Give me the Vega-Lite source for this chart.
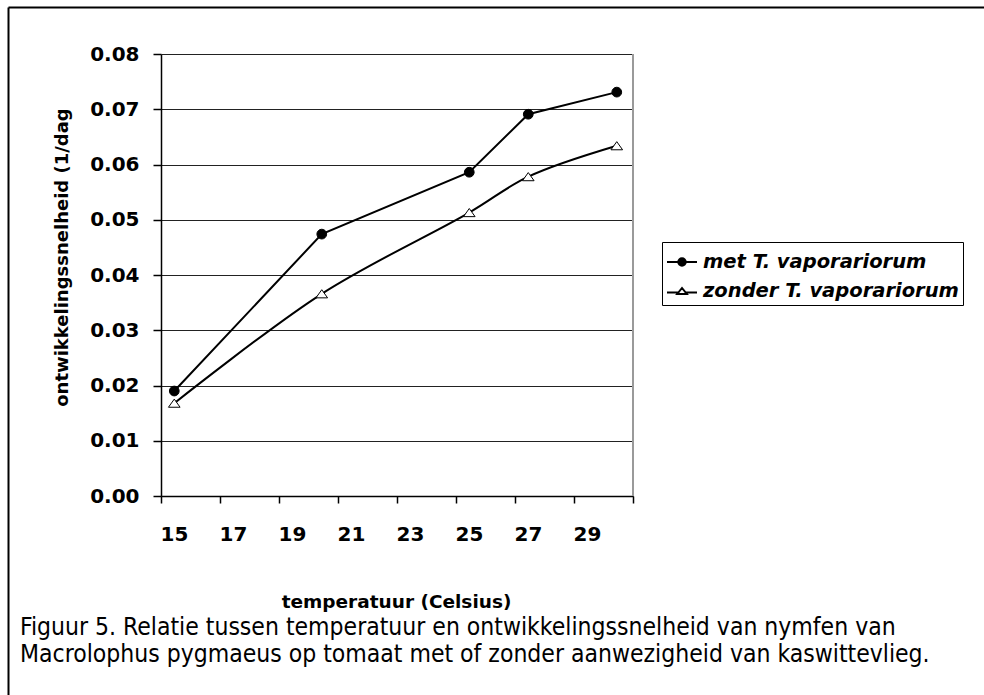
{
  "$schema": "https://vega.github.io/schema/vega-lite/v6.json",
  "width": 976,
  "height": 688,
  "autosize": "none",
  "padding": {"left": 8, "top": 7, "right": 0, "bottom": 0},
  "background": "white",
  "config": {"view": {"stroke": null}, "font": "DejaVu Sans"},
  "title": {
    "text": ["Figuur 5. Relatie tussen temperatuur en ontwikkelingssnelheid van nymfen van", "Macrolophus pygmaeus op tomaat met of zonder aanwezigheid van kaswittevlieg."],
    "orient": "bottom",
    "anchor": "start",
    "frame": "group",
    "font": "DejaVu Sans Condensed, Roboto",
    "fontSize": 24.5,
    "fontWeight": "normal",
    "color": "black",
    "baseline": "alphabetic",
    "lineHeight": 27,
    "offset": 0,
    "dx": 12,
    "dy": -60
  },
  "data": {
    "values": [
      {"temp": 15, "rate": 0.019, "series": "met T. vaporariorum"},
      {"temp": 20, "rate": 0.0474, "series": "met T. vaporariorum"},
      {"temp": 25, "rate": 0.0586, "series": "met T. vaporariorum"},
      {"temp": 27, "rate": 0.0691, "series": "met T. vaporariorum"},
      {"temp": 30, "rate": 0.0731, "series": "met T. vaporariorum"},
      {"temp": 15, "rate": 0.0168, "series": "zonder T. vaporariorum"},
      {"temp": 20, "rate": 0.0366, "series": "zonder T. vaporariorum"},
      {"temp": 25, "rate": 0.0513, "series": "zonder T. vaporariorum"},
      {"temp": 27, "rate": 0.0578, "series": "zonder T. vaporariorum"},
      {"temp": 30, "rate": 0.0634, "series": "zonder T. vaporariorum"}
    ]
  },
  "layer": [
    {
      "layer": [
        {
          "mark": {"type": "rule", "color": "#9a9a9a", "strokeWidth": 2},
          "encoding": {
            "x": {"datum": 30.55, "type": "quantitative"},
            "y": {"datum": 0, "type": "quantitative"},
            "y2": {"datum": 0.08}
          }
        },
        {
          "transform": [{"filter": "datum.series == 'met T. vaporariorum'"}],
          "mark": {"type": "line", "color": "black", "strokeWidth": 2, "interpolate": "linear"},
          "encoding": {
            "x": {
              "field": "temp",
              "type": "quantitative",
              "scale": {"domain": [14.55, 30.55], "range": [153, 625], "nice": false, "zero": false},
              "axis": {
                "orient": "bottom",
                "offset": -199,
                "values": [14.55, 16.55, 18.55, 20.55, 22.55, 24.55, 26.55, 28.55, 30.55],
                "labelExpr": "datum.value > 30 ? '' : format(datum.value + 0.45, 'd')",
                "labelOffset": 13,
                "labelFlush": false,
                "labelOverlap": false,
                "labelBound": false,
                "labelBaseline": "alphabetic",
                "labelPadding": 37,
                "labelFont": "DejaVu Sans",
                "labelFontWeight": "bold",
                "labelFontSize": 20,
                "labelColor": "black",
                "tickSize": 7,
                "tickColor": "black",
                "tickWidth": 1.5,
                "domainColor": "black",
                "domainWidth": 1.5,
                "grid": false,
                "title": "temperatuur (Celsius)",
                "titleFont": "DejaVu Sans",
                "titleFontWeight": "bold",
                "titleFontSize": 18.5,
                "titleColor": "black",
                "titleX": 388,
                "titleY": 111,
                "titleAlign": "center",
                "titleBaseline": "alphabetic"
              }
            },
            "y": {
              "field": "rate",
              "type": "quantitative",
              "scale": {"domain": [0, 0.08], "range": [489, 47], "nice": false, "zero": false},
              "axis": {
                "orient": "left",
                "offset": -153,
                "values": [0, 0.01, 0.02, 0.03, 0.04, 0.05, 0.06, 0.07, 0.08],
                "format": ".2f",
                "labelFont": "DejaVu Sans",
                "labelFontWeight": "bold",
                "labelFontSize": 20,
                "labelColor": "black",
                "labelPadding": 14,
                "tickSize": 8,
                "tickColor": "black",
                "tickWidth": 1.5,
                "domainColor": "black",
                "domainWidth": 1.5,
                "grid": true,
                "gridColor": "#222222",
                "gridWidth": 1,
                "title": "ontwikkelingssnelheid (1/dag",
                "titleFont": "DejaVu Sans",
                "titleFontWeight": "bold",
                "titleFontSize": 18,
                "titleColor": "black",
                "titleAngle": -90,
                "titleX": -99,
                "titleY": 250,
                "titleAlign": "center",
                "titleBaseline": "middle"
              }
            }
          }
        },
        {
          "transform": [{"filter": "datum.series == 'zonder T. vaporariorum'"}],
          "mark": {"type": "line", "color": "black", "strokeWidth": 2, "interpolate": "catmull-rom"},
          "encoding": {
            "x": {"field": "temp", "type": "quantitative"},
            "y": {"field": "rate", "type": "quantitative"}
          }
        },
        {
          "mark": {"type": "point", "filled": true, "stroke": "black", "strokeWidth": 1, "opacity": 1},
          "encoding": {
            "x": {"field": "temp", "type": "quantitative"},
            "y": {"field": "rate", "type": "quantitative"},
            "shape": {
              "field": "series",
              "type": "nominal",
              "scale": {"domain": ["met T. vaporariorum", "zonder T. vaporariorum"], "range": ["circle", "M0,-0.7L1,0.7L-1,0.7Z"]},
              "legend": null
            },
            "fill": {
              "field": "series",
              "type": "nominal",
              "scale": {"domain": ["met T. vaporariorum", "zonder T. vaporariorum"], "range": ["black", "white"]},
              "legend": null
            },
            "size": {
              "field": "series",
              "type": "nominal",
              "scale": {"domain": ["met T. vaporariorum", "zonder T. vaporariorum"], "range": [95, 135]},
              "legend": null
            }
          }
        },
        {
          "transform": [{"filter": "false"}],
          "mark": {"type": "point", "filled": false, "stroke": "black", "strokeWidth": 2},
          "encoding": {
            "x": {"field": "temp", "type": "quantitative"},
            "y": {"field": "rate", "type": "quantitative"},
            "shape": {
              "field": "series",
              "type": "nominal",
              "scale": {
                "domain": ["met T. vaporariorum", "zonder T. vaporariorum"],
                "range": [
                  "M-1,0H1M0.25,0A0.25,0.25,0,1,1,-0.25,0A0.25,0.25,0,1,1,0.25,0M0.16,0A0.16,0.16,0,1,1,-0.16,0A0.16,0.16,0,1,1,0.16,0M0.07,0A0.07,0.07,0,1,1,-0.07,0A0.07,0.07,0,1,1,0.07,0",
                  "M-1,0.1H-0.24M0.24,0.1H1M0,-0.2L0.32,0.2L-0.32,0.2ZM0,-0.2L-0.32,0.2L0.32,0.2Z"
                ]
              },
              "legend": {
                "orient": "none",
                "legendX": 654,
                "legendY": 235,
                "title": null,
                "symbolSize": 900,
                "symbolStrokeColor": "black",
                "symbolStrokeWidth": 2,
                "symbolOpacity": 1,
                "labelFont": "DejaVu Sans",
                "labelFontSize": 19.5,
                "labelFontWeight": "bold",
                "labelFontStyle": "italic",
                "labelColor": "black",
                "labelLimit": 0,
                "labelOffset": 5,
                "strokeColor": "black",
                "fillColor": "white",
                "padding": 4,
                "rowPadding": 3
              }
            }
          }
        }
      ],
      "resolve": {"scale": {"shape": "independent"}}
    },
    {
      "data": {"values": [{"k": 0}]},
      "mark": {"type": "point", "opacity": 0},
      "encoding": {
        "x": {
          "datum": 0,
          "type": "quantitative",
          "scale": {"domain": [0, 1], "range": [0, 976], "nice": false, "zero": false},
          "axis": {"orient": "top", "domain": true, "domainColor": "black", "domainWidth": 2, "ticks": false, "labels": false, "grid": false, "title": null, "offset": 0}
        },
        "y": {
          "datum": 1,
          "type": "quantitative",
          "scale": {"domain": [0, 1], "range": [688, 0], "nice": false, "zero": false},
          "axis": {"orient": "left", "domain": true, "domainColor": "black", "domainWidth": 2, "ticks": false, "labels": false, "grid": false, "title": null, "offset": 0}
        }
      }
    }
  ],
  "resolve": {
    "scale": {"x": "independent", "y": "independent"},
    "axis": {"x": "independent", "y": "independent"}
  }
}
